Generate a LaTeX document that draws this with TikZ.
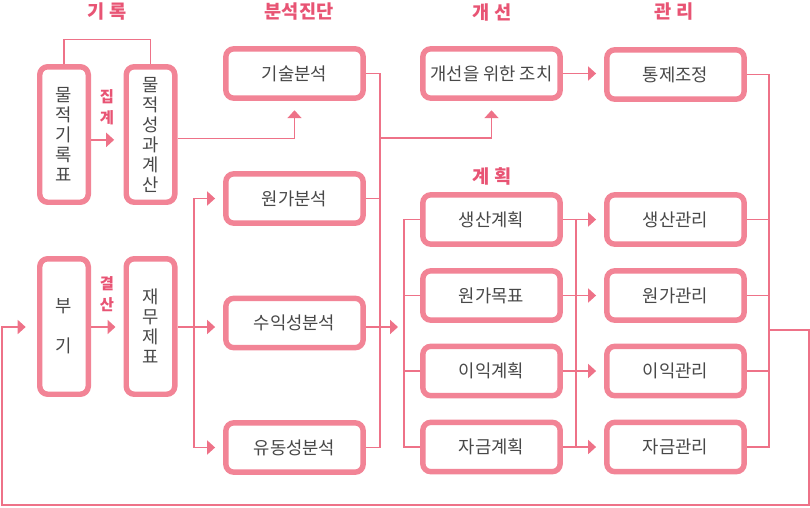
\documentclass[tikz,border=0pt]{standalone}
\usepackage{fontspec}
\setmainfont{Noto Sans CJK KR}
\usetikzlibrary{arrows.meta}
\definecolor{boxpink}{RGB}{242,132,150}
\definecolor{linepink}{RGB}{238,114,136}
\definecolor{headpink}{RGB}{232,84,116}
\definecolor{txtgray}{RGB}{72,72,72}
\tikzset{
  wbox/.style={draw=boxpink, line width=4.1pt, rounded corners=6pt, fill=white, text=txtgray, minimum width=103pt, minimum height=37pt, inner sep=0pt, font=\fontsize{13.3}{15}\selectfont},
  tbox/.style={wbox, minimum width=36.4pt, minimum height=101.6pt, align=center},
  head/.style={text=headpink, font=\fontsize{14}{16}\selectfont\bfseries},
  tag/.style={text=headpink, font=\fontsize{11.5}{16}\selectfont\bfseries, align=center},
  link/.style={draw=linepink, line width=1.4pt},
  arr/.style={link, -{Triangle[length=6pt,width=10.5pt]}, shorten >=6pt},
}

\begin{document}
\begin{tikzpicture}[x=0.75pt, y=-0.75pt]
			%%%%% START %%%%%
			\useasboundingbox (0,0) rectangle (810,507);
			
			\node[head] (hrec) at (107,12) {기 록};
			\node[head] (hdiag) at (299,12) {분석진단};
			\node[head] (himp) at (492,12) {개 선};
			\node[head] (hmg) at (674,12) {관 리};
			\node[head] (hplan) at (492,176) {계 획};
			
			\node[tbox] (rec) at (64,134.5) {물\\적\\기\\록\\표};
			\node[tbox] (calc) at (150.5,134.5) {물\\적\\성\\과\\계\\산};
			\node[tbox] (book) at (64,326.5) {부\\[15pt]기};
			\node[tbox] (fin) at (150.5,326.5) {재\\무\\제\\표};
			\node[tag] (sum) at (107,107) {집\\계};
			\node[tag] (close) at (107,294) {결\\산};
			
			\node[wbox] (tech) at (294.5,73.5) {기술분석};
			\node[wbox] (cost) at (294.5,198.5) {원가분석};
			\node[wbox] (profit) at (294.5,323) {수익성분석};
			\node[wbox] (liquid) at (294.5,447.5) {유동성분석};
			
			\node[wbox] (improve) at (491.5,73.5) {개선을 위한 조치};
			\node[wbox] (control) at (675.5,74.5) {통제조정};
			
			\node[wbox] (plan1) at (491.5,219.5) {생산계획};
			\node[wbox] (plan2) at (491.5,295.5) {원가목표};
			\node[wbox] (plan3) at (491.5,371) {이익계획};
			\node[wbox] (plan4) at (491.5,447) {자금계획};
			
			\node[wbox] (mg1) at (675.5,219.5) {생산관리};
			\node[wbox] (mg2) at (675.5,295.5) {원가관리};
			\node[wbox] (mg3) at (675.5,371) {이익관리};
			\node[wbox] (mg4) at (675.5,447) {자금관리};
			
			\coordinate (fork) at (194,327);
			\coordinate (abx) at (380,0);
			\coordinate (tap) at (380,138);
			\coordinate (pbx) at (404,0);
			\coordinate (mbx) at (576,0);
			\coordinate (rbx) at (769,0);
			\coordinate (out) at (769,330);
			\coordinate (c1) at (809,330);
			\coordinate (c2) at (809,505);
			\coordinate (c3) at (2,505);
			\coordinate (c4) at (2,327);
			
			\draw[link] (rec.north) -- ++(0,-24.5) -| (calc.north);
			\draw[arr, shorten >=7pt] ([yshift=-4pt]rec.east) -- ([yshift=-4pt]calc.west);
			\draw[arr] (book.east |- fork) -- (fork -| fin.west);
			\draw[arr, shorten >=7pt] ([yshift=-3pt]calc.east) -| (tech.south);
			
			\draw[link] (fin.east |- fork) -- (fork);
			\draw[arr] (fork) -- (fork -| profit.west);
			\draw[arr] (fork) |- (cost.west);
			\draw[arr] (fork) |- (liquid.west);
			
			\draw[link] (tech.east) -- (tech.east -| abx) -- (liquid.east -| abx) -- (liquid.east);
			\draw[link] (cost.east) -- (cost.east -| abx);
			\draw[arr, shorten >=4.5pt] (fork -| profit.east) -- (fork -| pbx);
			\draw[arr, shorten >=7pt] (tap) -| (improve.south);
			\draw[arr] (improve.east) -- (improve.east -| control.west);
			
			\draw[link] (plan1.west) -- (plan1.west -| pbx) -- (plan4.west -| pbx) -- (plan4.west);
			\draw[link] (plan2.west) -- (plan2.west -| pbx);
			\draw[link] (plan3.west) -- (plan3.west -| pbx);
			
			\draw[link] (plan1.east -| mbx) -- (plan4.east -| mbx);
			\draw[arr] (plan1.east) -- (mg1.west);
			\draw[arr] (plan2.east) -- (mg2.west);
			\draw[arr] (plan3.east) -- (mg3.west);
			\draw[arr] (plan4.east) -- (mg4.west);
			
			\draw[link] (control.east) -- (control.east -| rbx) -- (mg4.east -| rbx) -- (mg4.east);
			\draw[link] (mg1.east) -- (mg1.east -| rbx);
			\draw[link] (mg2.east) -- (mg2.east -| rbx);
			\draw[link] (mg3.east) -- (mg3.east -| rbx);
			
			\draw[arr, shorten >=8.5pt] (out) -- (c1) -- (c2) -- (c3) -- (c4) -- (c4 -| book.west);
			
			%%%%% END %%%%%
\end{tikzpicture}
\end{document}
